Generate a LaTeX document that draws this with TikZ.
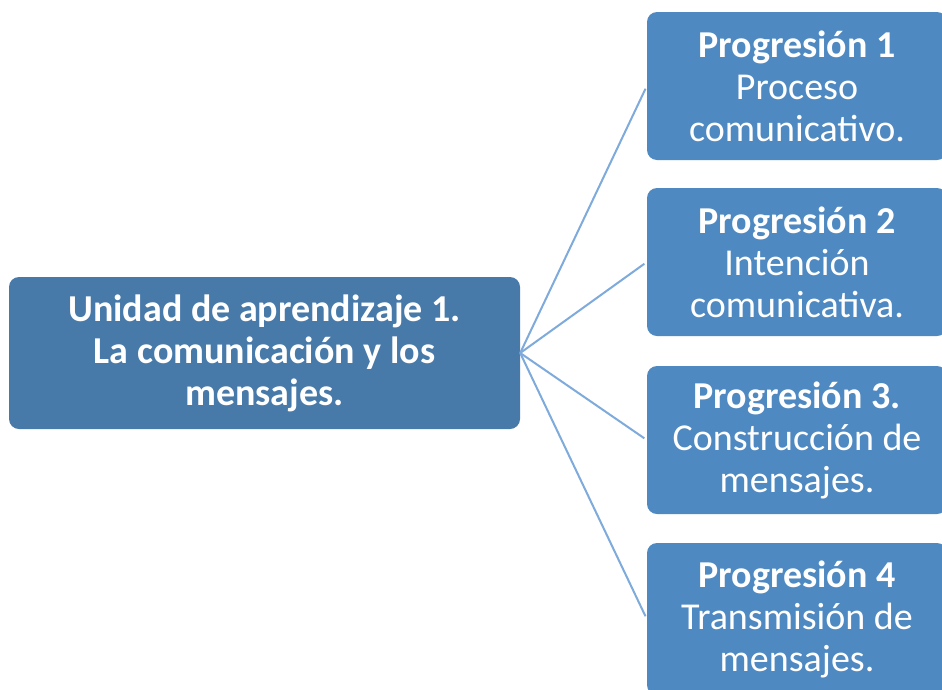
\documentclass[tikz,border=0pt]{standalone}
\usepackage{fontspec}
\setmainfont{Carlito}
\usetikzlibrary{positioning}
\definecolor{unidadblue}{HTML}{4779A9}
\definecolor{progblue}{HTML}{4F89C1}
\definecolor{lineblue}{HTML}{7EAADC}
\tikzset{
	unidadbox/.style={fill=unidadblue, rounded corners=10pt, text=white, align=center,
		font=\fontsize{38}{42}\selectfont\bfseries, minimum width=511pt, minimum height=152pt, inner sep=0pt},
	progbox/.style={fill=progblue, rounded corners=10pt, text=white, align=center,
		font=\fontsize{38}{42}\selectfont, minimum width=300pt, minimum height=148pt, inner sep=0pt},
	conector/.style={draw=lineblue, line width=2pt, shorten >=3pt}
}

\begin{document}
\begin{tikzpicture}[x=1pt, y=-1pt]
			%%%%% START %%%%%
			
			\useasboundingbox[fill=white] (0, 0) rectangle (942, 689);
			
			\node[unidadbox] (unidad) at (264.5, 353) {Unidad de aprendizaje 1.\\La comunicación y los\\mensajes.};
			
			\node[progbox] (prog1) at (797, 86) {\textbf{Progresión 1}\\Proceso\\comunicativo.};
			\node[progbox] (prog2) at (797, 262) {\textbf{Progresión 2}\\Intención\\comunicativa.};
			\node[progbox] (prog3) at (797, 440) {\textbf{Progresión 3.}\\Construcción de\\mensajes.};
			\node[progbox, minimum height=152pt] (prog4) at (797, 619) {\textbf{Progresión 4}\\Transmisión de\\mensajes.};
			
			\draw[conector] (unidad.east) -- (prog1.west);
			\draw[conector] (unidad.east) -- (prog2.west);
			\draw[conector] (unidad.east) -- (prog3.west);
			\draw[conector] (unidad.east) -- (prog4.west);
			
			%%%%% END %%%%%
\end{tikzpicture}
\end{document}
